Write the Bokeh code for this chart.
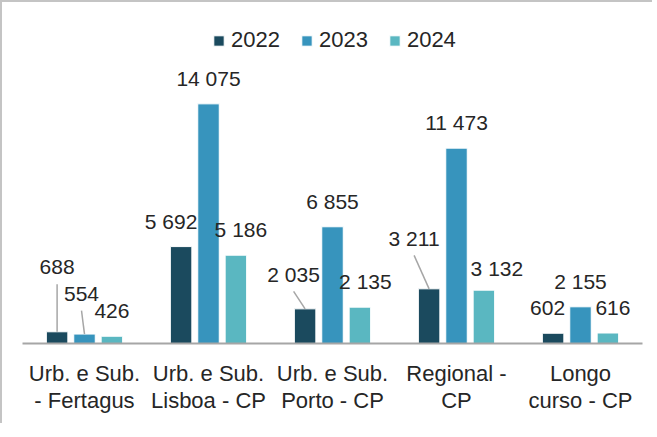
from bokeh.plotting import figure
from bokeh.models import FixedTicker, Legend, Range1d
from bokeh.embed import file_html
from bokeh.resources import INLINE
from bokeh.core.properties import value

# ---- data -------------------------------------------------------------
categories = ["Urb. e Sub.\n- Fertagus", "Urb. e Sub.\nLisboa - CP", "Urb. e Sub.\nPorto - CP",
              "Regional -\nCP", "Longo\ncurso - CP"]
years = ["2022", "2023", "2024"]
v2022 = [688, 5692, 2035, 3211, 602]
v2023 = [554, 14075, 6855, 11473, 2155]
v2024 = [426, 5186, 2135, 3132, 616]
series = [v2022, v2023, v2024]

# label nudges (px, x right / y down) and leader lines, as placed in the original
nudge_x = [[0, -10, -11.5, -15, -5.5], [-3, 0, 0, 0, 0], [0, 5, 5.5, 13, 5]]
nudge_y = [[-39, 0, -9, -25, 0], [-15, 0, 0, 0, 0], [0, 0, 0, 3.5, 0]]
leader = [[True, False, True, True, False], [True, False, False, False, False],
          [False, False, False, False, False]]

# ---- style --------------------------------------------------------------
colors = ["#1b4a5e", "#3794bd", "#5ab7c1"]
FONT = "Liberation Sans"
TXT = "#262626"
FRAME_W, FRAME_H = 620, 315
Y_MAX = 18500
N = len(categories)
PX_X = N / FRAME_W
PX_Y = Y_MAX / FRAME_H
BAR_W = 21.5 * PX_X
STEP = 27.4 * PX_X
offs = [-STEP, 0, STEP]
LABEL_UP = 25.5

p = figure(width=650, height=421, output_backend="svg", toolbar_location=None,
           x_range=Range1d(0, N), y_range=Range1d(0, Y_MAX),
           min_border_left=20, min_border_right=10, min_border_top=26, min_border_bottom=80)
p.frame_width = FRAME_W
p.frame_height = FRAME_H
p.styles = {"border-left": "2px solid #c4c4c4", "border-top": "2px solid #c4c4c4"}
p.outline_line_color = None
p.grid.visible = False
p.yaxis.visible = False

renderers = []
for j, (yr, vals) in enumerate(zip(years, series)):
    xs = [i + 0.5 + offs[j] for i in range(N)]
    r = p.vbar(x=xs, top=vals, width=BAR_W, bottom=0, fill_color=colors[j],
               line_color="white", line_width=1)
    renderers.append((yr, [r]))
    lx = [x + dx * PX_X for x, dx in zip(xs, nudge_x[j])]
    ly = [v + (LABEL_UP - dy) * PX_Y for v, dy in zip(vals, nudge_y[j])]
    labels = [f"{v:,}".replace(",", " ") for v in vals]
    p.text(x=lx, y=ly, text=labels, text_align="center", text_baseline="middle",
           text_font=value(FONT), text_font_size="21px", text_color=TXT)
    sx0, sy0, sx1, sy1 = [], [], [], []
    for i in range(N):
        if leader[j][i]:
            sx0.append(lx[i]); sy0.append(ly[i] - 17 * PX_Y)
            sx1.append(xs[i]); sy1.append(vals[i])
    if sx0:
        p.segment(x0=sx0, y0=sy0, x1=sx1, y1=sy1, line_color="#a6a6a6", line_width=1.5)

ax = p.xaxis[0]
ax.ticker = FixedTicker(ticks=[i + 0.5 for i in range(N)])
ax.major_label_overrides = {i + 0.5: c for i, c in enumerate(categories)}
ax.major_tick_line_color = None
ax.minor_tick_line_color = None
ax.axis_line_color = "#a6a6a6"
ax.axis_line_width = 2
ax.major_label_standoff = 11
ax.major_label_text_font = FONT
ax.major_label_text_font_size = "22px"
ax.major_label_text_color = TXT
ax.major_label_text_line_height = 1.1

legend = Legend(items=renderers, orientation="horizontal", location=(190, 290),
                glyph_width=13, glyph_height=13, label_standoff=6, spacing=20,
                padding=0, margin=0, border_line_alpha=0, background_fill_alpha=0,
                label_text_font=FONT, label_text_font_size="22px", label_text_color=TXT)
p.add_layout(legend, "center")

open("out.html", "w").write(file_html(p, INLINE))
